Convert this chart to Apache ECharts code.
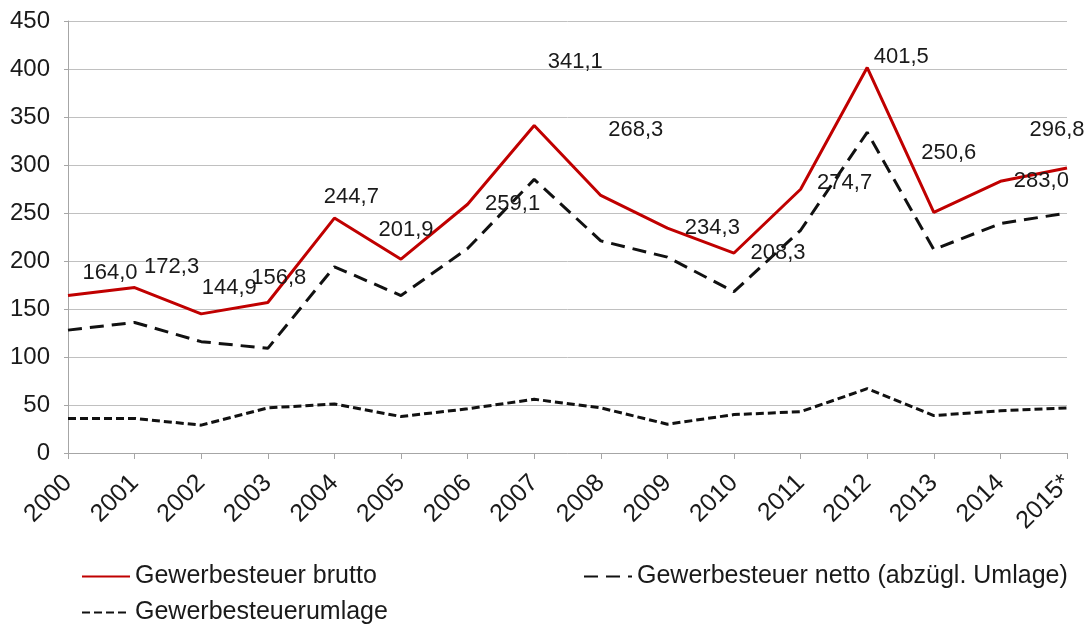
<!DOCTYPE html>
<html>
<head>
<meta charset="utf-8">
<script src="https://cdn.jsdelivr.net/npm/echarts@6/dist/echarts.min.js"></script>
<style>
    html, body { margin: 0; padding: 0; background: #fff; }
    #chart { width: 1085px; height: 628px; }
</style>
</head>
<body>
<div id="chart"></div>
<script>
const years = ["2000", "2001", "2002", "2003", "2004", "2005", "2006", "2007",
    "2008", "2009", "2010", "2011", "2012", "2013", "2014", "2015*"];
const brutto = [164.0, 172.3, 144.9, 156.8, 244.7, 201.9, 259.1, 341.1,
    268.3, 234.3, 208.3, 274.7, 401.5, 250.6, 283.0, 296.8];
const netto = [128, 136, 116, 109, 194, 164, 213, 285,
    221, 204, 168, 232, 334, 212, 239, 250];
const umlage = [36, 36, 29, 47, 51, 38, 46, 56,
    47, 30, 40, 43, 67, 39, 44, 47];

// label offsets (px) like in the original Excel chart
const labelOffsets = [[42, -23], [37, -21], [28, -26], [11, -25], [17, -21], [5, -29],
    [45, 0], [41, -64], [35, -65], [45, 0], [44, 0], [44, -6], [34, -11], [15, -59],
    [41, 0], [-10, -38]];

const chart = echarts.init(document.getElementById("chart"));
const font = "Liberation Sans, Arial, sans-serif";

const legendBase = {
    orient: "horizontal",
    icon: "inherit",
    itemWidth: 48,
    itemHeight: 12,
    itemGap: 6,
    itemStyle: { opacity: 0 },
    textStyle: { fontFamily: font, fontSize: 25, color: "#1a1a1a" },
};

chart.setOption({
    animation: false,
    textStyle: { fontFamily: font },
    grid: { left: 68, right: 18, top: 21, bottom: 175, containLabel: false },
    legend: [
        Object.assign({ left: 76, top: 559, data: ["Gewerbesteuer brutto"] }, legendBase),
        Object.assign({ left: 578, top: 559, data: ["Gewerbesteuer netto (abzügl. Umlage)"] }, legendBase),
        Object.assign({ left: 76, top: 595, data: ["Gewerbesteuerumlage"] }, legendBase),
    ],
    xAxis: {
        type: "category",
        data: years,
        boundaryGap: false,
        axisLine: { lineStyle: { color: "#a6a6a6", width: 1 } },
        axisTick: { show: true, length: 6, lineStyle: { color: "#a6a6a6" } },
        axisLabel: { rotate: 45, fontSize: 25, color: "#1a1a1a", margin: 26, fontFamily: font },
    },
    yAxis: {
        type: "value",
        min: 0,
        max: 450,
        interval: 50,
        axisLine: { show: true, lineStyle: { color: "#a6a6a6", width: 1 } },
        axisTick: { show: true, length: 4, lineStyle: { color: "#a6a6a6" } },
        axisLabel: { fontSize: 24, color: "#1a1a1a", margin: 18, fontFamily: font },
        splitLine: { lineStyle: { color: "#c0c0c0", width: 1 } },
    },
    series: [
        {
            name: "Gewerbesteuer brutto",
            type: "line",
            data: brutto.map((v, i) => ({
                value: v,
                label: { offset: labelOffsets[i] },
            })),
            symbol: "circle",
            symbolSize: 0,
            showSymbol: true,
            lineStyle: { color: "#c00000", width: 3 },
            itemStyle: { color: "#c00000" },
            label: {
                show: true,
                position: "inside",
                fontSize: 22,
                color: "#1a1a1a",
                fontFamily: font,
                formatter: (p) => p.value.toFixed(1).replace(".", ","),
            },
            z: 3,
        },
        {
            name: "Gewerbesteuer netto (abzügl. Umlage)",
            type: "line",
            data: netto,
            symbol: "none",
            lineStyle: { color: "#111", width: 3, type: [14, 8] },
            itemStyle: { color: "#111" },
            z: 2,
        },
        {
            name: "Gewerbesteuerumlage",
            type: "line",
            data: umlage,
            symbol: "none",
            lineStyle: { color: "#111", width: 3, type: [8, 4] },
            itemStyle: { color: "#111" },
            z: 2,
        },
    ],
});
</script>
</body>
</html>
